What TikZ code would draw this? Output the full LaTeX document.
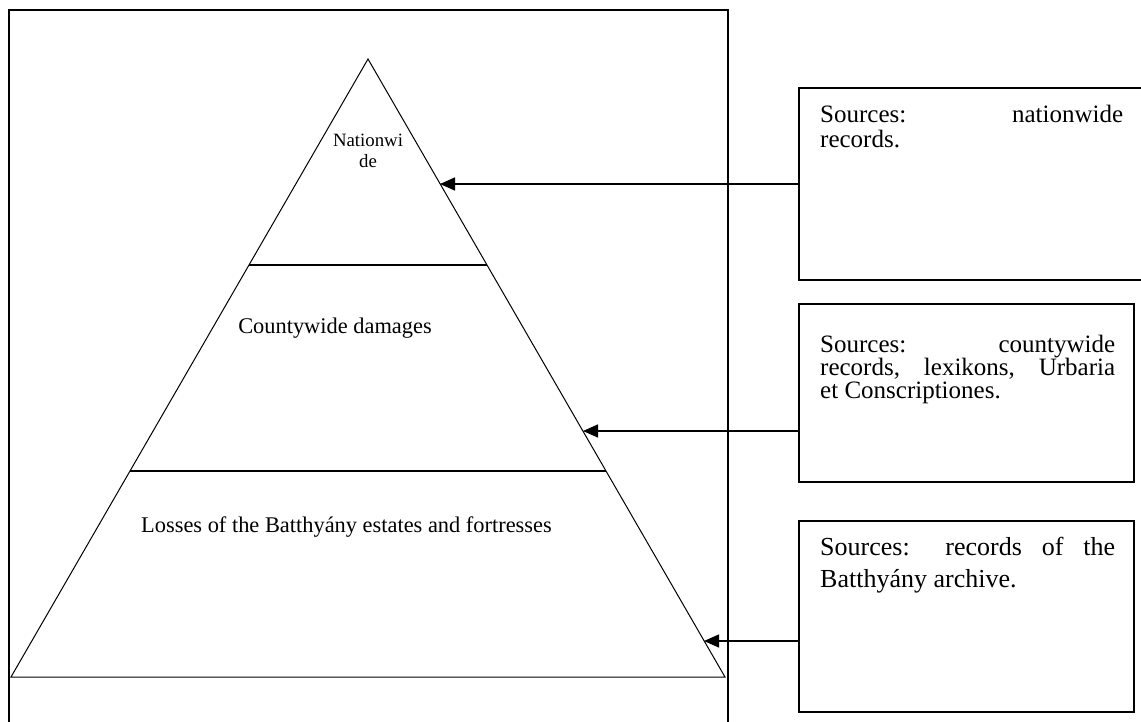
\documentclass[tikz,border=0pt]{standalone}
\usepackage{fontspec}
\setmainfont{Liberation Serif}
\usetikzlibrary{arrows.meta}
\begin{document}
\begin{tikzpicture}[x=1pt,y=-1pt,
  frameline/.style={line width=1.5pt},
  pyrline/.style={line width=1pt, line join=miter},
  layerline/.style={line width=1.6pt},
  srcbox/.style={draw, line width=1.8pt, inner sep=0pt, outer sep=0pt},
  conn/.style={line width=1.5pt, -{Triangle[length=15pt,width=13pt]}},
  ptext/.style={inner sep=0pt, anchor=base, font=\fontsize{22.4}{24}\selectfont},
  stext/.style={inner sep=0pt, anchor=base, font=\fontsize{18.8}{21}\selectfont},
  btext/.style={inner sep=0pt, anchor=base west, font=\fontsize{25}{27}\selectfont},
  btextb/.style={inner sep=0pt, anchor=base west, font=\fontsize{26}{28}\selectfont}]
\useasboundingbox (0,0) rectangle (1141,722);
% outer frame
\draw[frameline] (9,730) -- (9,10) -- (728,10) -- (728,730);
% pyramid
\coordinate (apex) at (368,59);
\coordinate (bl) at (11,677);
\coordinate (br) at (725,677);
\draw[pyrline] (bl) -- (apex) -- (br) -- cycle;
\coordinate (l1a) at (249,265);
\coordinate (l1b) at (487,265);
\coordinate (l2a) at (130,471);
\coordinate (l2b) at (606,471);
\draw[layerline] (l1a) -- (l1b);
\draw[layerline] (l2a) -- (l2b);
% pyramid texts
\node[stext] (nat1) at (368,147) {Nationwi};
\node[stext] (nat2) at (368,168) {de};
\node[ptext] (county) at (335,333) {Countywide damages};
\node[ptext] (losses) at (346.5,532) {Losses of the Batthyány estates and fortresses};
% source boxes
\node[srcbox, minimum width=344pt, minimum height=192pt] (b1) at (971,184) {};
\node[srcbox, minimum width=335pt, minimum height=178pt] (b2) at (966.5,393) {};
\node[srcbox, minimum width=335pt, minimum height=191pt] (b3) at (966.5,616.5) {};
% box texts
\node[btext] (b1l1) at (820,123) {\makebox[303pt][s]{Sources: nationwide}};
\node[btext] (b1l2) at (820,148) {records.};
\node[btext] (b2l1) at (820,352) {\makebox[295pt][s]{Sources: countywide}};
\node[btext] (b2l2) at (820,375) {\makebox[295pt][s]{records, lexikons, Urbaria}};
\node[btext] (b2l3) at (820,398) {et Conscriptiones.};
\node[btextb] (b3l1) at (820,555) {\makebox[295pt][s]{Sources: records of the}};
\node[btextb] (b3l2) at (820,587) {Batthyány archive.};
% connectors
\coordinate (t1) at (440,184);
\coordinate (t2) at (583,431);
\coordinate (t3) at (704,641);
\draw[conn] (b1.west |- t1) -- (t1);
\draw[conn] (b2.west |- t2) -- (t2);
\draw[conn] (b3.west |- t3) -- (t3);
\end{tikzpicture}
\end{document}
